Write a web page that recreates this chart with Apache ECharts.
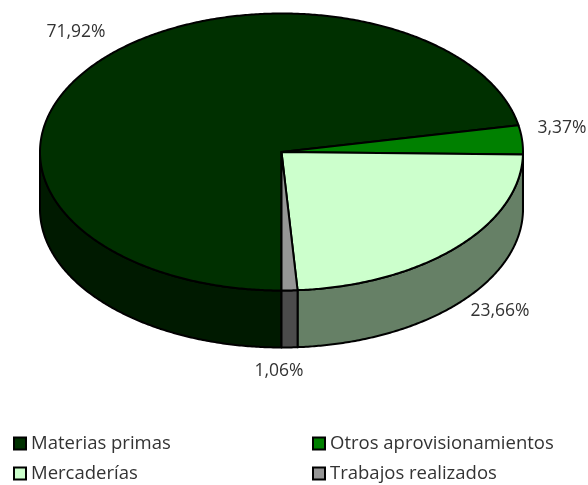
<!DOCTYPE html>
<html><head><meta charset="utf-8">
<style>html,body{margin:0;padding:0;background:#fff}#c{width:588px;height:485px}</style>
<script src="https://cdn.jsdelivr.net/npm/echarts@6/dist/echarts.min.js"></script>
</head><body><div id="c"></div>
<script>
const categories = ['Materias primas','Otros aprovisionamientos','Mercaderías','Trabajos realizados'];
const values = [71.92,3.37,23.66,1.06];
const labels = ['71,92%','3,37%','23,66%','1,06%'];
const topColors = ['#003000','#008000','#ccffcc','#969696'];
const wallColors = ['#001a00','#004000','#668066','#4b4b4b'];

const FONT = '"Open Sans"';
const PIE = {cx:281.5, cy:152, rx:241.5, ry:138.5, depth:57, start:180};
const LABEL_POS = [[76,32],[562,128],[500,311],[279,371]];
const LEGEND_POS = [[13,434],[312,434],[13,464],[312,464]];
const total = values.reduce((a,b)=>a+b,0);

function pt(deg, dy){
  const r = deg*Math.PI/180;
  return [PIE.cx+PIE.rx*Math.sin(r), PIE.cy-PIE.ry*Math.cos(r)+(dy||0)];
}
function arc(a,b,dy){
  const out=[]; const n=Math.max(2,Math.ceil(Math.abs(b-a)*2));
  for(let i=0;i<=n;i++) out.push(pt(a+(b-a)*i/n,dy));
  return out;
}
function startOf(idx){
  let s=0; for(let i=0;i<idx;i++) s+=values[i];
  return PIE.start+s/total*360;
}
function wallRanges(a,b){
  const out=[];
  for(const k of [0,360]){
    const lo=Math.max(a,90+k), hi=Math.min(b,270+k);
    if(hi>lo) out.push([lo,hi]);
  }
  return out;
}
function renderSlice(idx){
  return function(params,api){
    const a=startOf(idx), b=a+api.value(0)/total*360;
    const children=[];
    const stroke={stroke:'#000',lineWidth:2,lineJoin:'round'};
    wallRanges(a,b).forEach(([lo,hi])=>{
      const top=arc(lo,hi,0), bot=arc(hi,lo,PIE.depth);
      children.push({type:'polygon',z2:1,shape:{points:top.concat(bot)},
        style:Object.assign({fill:wallColors[idx]},stroke)});
    });
    children.push({type:'polygon',z2:5,shape:{points:[[PIE.cx,PIE.cy]].concat(arc(a,b,0))},
      style:Object.assign({fill:api.visual('color')},stroke)});
    children.push({type:'text',z2:6,x:LABEL_POS[idx][0],y:LABEL_POS[idx][1],
      style:{text:labels[idx],fill:'#333',font:'17.5px '+FONT,align:'center',verticalAlign:'middle'}});
    return {type:'group',children};
  };
}
const chart=echarts.init(document.getElementById('c'),null,{renderer:'canvas'});
chart.setOption({
  animation:false,
  backgroundColor:'#fff',
  legend:categories.map((name,i)=>({
    data:[name],left:LEGEND_POS[i][0],top:LEGEND_POS[i][1],padding:0,
    itemWidth:12,itemHeight:12,itemGap:5,icon:'rect',selectedMode:false,
    itemStyle:{borderColor:'#000',borderWidth:2},
    textStyle:{color:'#333',fontFamily:FONT,fontSize:18.5,padding:0}
  })),
  series:categories.map((name,i)=>({
    type:'custom',name,coordinateSystem:'none',silent:true,
    itemStyle:{color:topColors[i]},
    renderItem:renderSlice(i),
    data:[[values[i]]]
  }))
});
</script></body></html>
